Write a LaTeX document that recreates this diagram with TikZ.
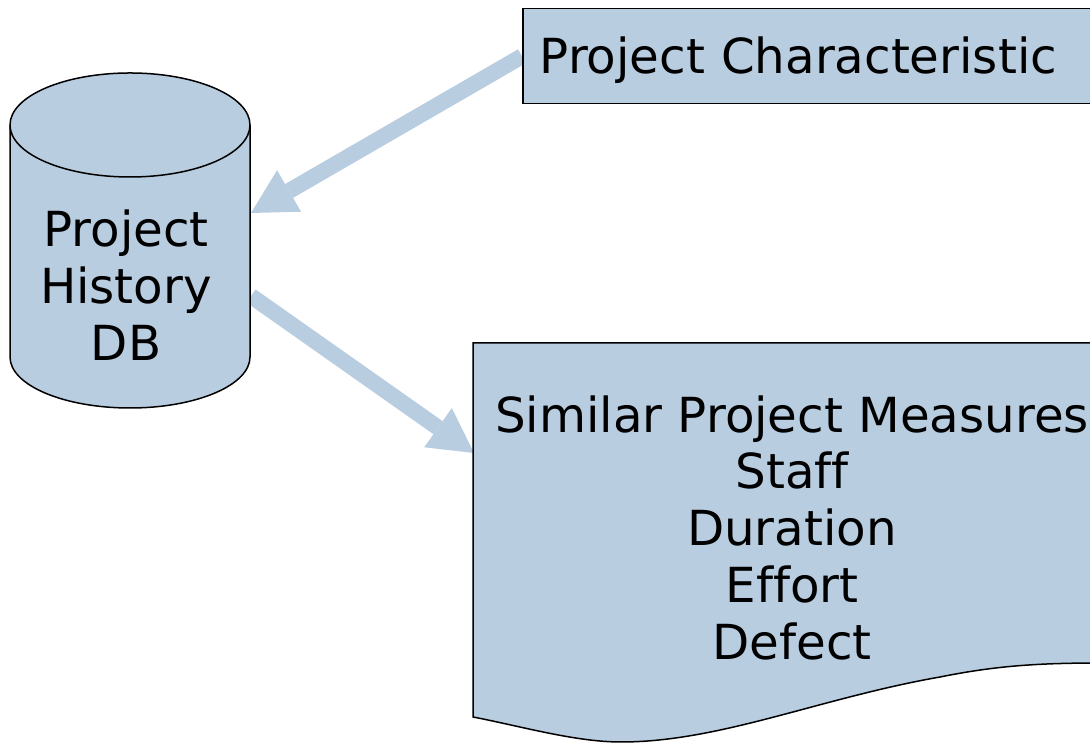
\documentclass[tikz,border=0pt]{standalone}
\usepackage{fontspec}
\setmainfont[Ligatures=NoCommon]{DejaVu Sans}
\usetikzlibrary{arrows.meta,backgrounds}
\definecolor{paleblue}{RGB}{185,205,224}
\begin{document}
\begin{tikzpicture}[x=1pt,y=1pt,
  shape outline/.style={draw=black, line width=1.5pt, fill=paleblue},
  big text/.style={font=\fontsize{48.3}{57}\selectfont},
  label text/.style={big text, align=center, inner sep=0pt},
  flow/.style={draw=paleblue, line width=16pt,
    -{Triangle[length=44pt,width=48pt,line width=0pt]}}]
\useasboundingbox (0,0) rectangle (1090,743);
\begin{scope}
  \clip (0,0) rectangle (1090,743);
  % database cylinder
  \path[shape outline] (10,618) -- (10,386)
    arc[start angle=180, end angle=360, x radius=120, y radius=51]
    -- (250,618)
    arc[start angle=0, end angle=180, x radius=120, y radius=52] -- cycle;
  \draw[line width=1.5pt] (10,618)
    arc[start angle=180, end angle=360, x radius=120, y radius=52];
  \node[label text] (db) at (126,458) {Project\\History\\DB};
  % input box
  \node[shape outline, big text, anchor=north west, minimum height=95pt,
        text width=560pt, inner xsep=17pt, inner ysep=0pt,
        text height=35pt, text depth=0pt, align=left]
        (pc) at (522,735) {Project Characteristic};
  % output document with wavy bottom edge
  \path[shape outline] (473,400) -- (1100,400) -- (1100,80)
    .. controls (1030,80) and (990,76) .. (940,66)
    .. controls (820,45) and (720,1) .. (621,1)
    .. controls (575,1) and (520,17) .. (473,26) -- cycle;
  \node[label text] (spm) at (792,215)
    {Similar Project Measures\\Staff\\Duration\\Effort\\Defect};
\end{scope}
% connector end points on the cylinder and document edges
\coordinate (dbin) at (251,530);
\coordinate (dbout) at (251,447);
\coordinate (docin) at (474,290);
\begin{pgfonlayer}{background}
  \draw[flow] (pc.west) -- (dbin);
  \draw[flow] (dbout) -- (docin);
\end{pgfonlayer}
\end{tikzpicture}
\end{document}
